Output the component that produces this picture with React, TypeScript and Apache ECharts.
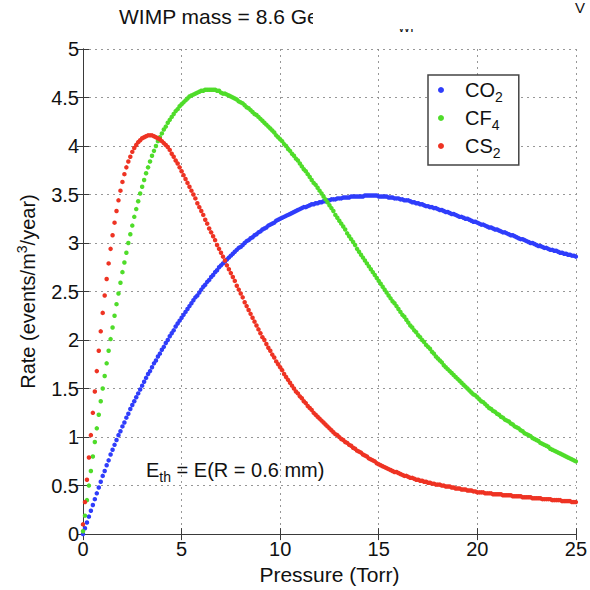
import React, { useEffect, useRef } from "react";
import * as echarts from "echarts";

// Sampling of the pressure axis (Torr) for every series below
const PRESSURE_STEP = 0.1;
const X_MIN = 0;
const X_MAX = 25;
const X_INTERVAL = 5;
const Y_MIN = 0;
const Y_MAX = 5;
const Y_INTERVAL = 0.5;

const SERIES_NAMES = ["CO2", "CF4", "CS2"];
const SERIES_LABELS = ["{n|CO}{s|2}", "{n|CF}{s|4}", "{n|CS}{s|2}"];
const SERIES_COLORS = ["#2f3dfb", "#4fdc2a", "#ee3323"];

// Rate (events/m^3/year), one value per 0.1 Torr from 0 to 25 Torr
const CO2_RATE = [
  0.00, 0.06, 0.12, 0.18, 0.24, 0.30, 0.36, 0.42, 0.48, 0.54,
  0.60, 0.65, 0.71, 0.76, 0.82, 0.87, 0.92, 0.97, 1.02, 1.06,
  1.11, 1.15, 1.20, 1.24, 1.29, 1.33, 1.37, 1.41, 1.45, 1.49,
  1.53, 1.57, 1.61, 1.65, 1.68, 1.72, 1.76, 1.79, 1.83, 1.86,
  1.90, 1.93, 1.97, 2.00, 2.04, 2.07, 2.10, 2.14, 2.17, 2.20,
  2.23, 2.26, 2.29, 2.32, 2.35, 2.38, 2.41, 2.44, 2.46, 2.49,
  2.52, 2.55, 2.57, 2.60, 2.62, 2.65, 2.67, 2.70, 2.72, 2.75,
  2.77, 2.79, 2.81, 2.83, 2.85, 2.87, 2.89, 2.91, 2.93, 2.95,
  2.96, 2.98, 3.00, 3.02, 3.03, 3.05, 3.06, 3.08, 3.09, 3.11,
  3.12, 3.14, 3.15, 3.16, 3.18, 3.19, 3.20, 3.21, 3.23, 3.24,
  3.25, 3.26, 3.27, 3.28, 3.29, 3.30, 3.31, 3.32, 3.33, 3.34,
  3.35, 3.36, 3.37, 3.37, 3.38, 3.39, 3.40, 3.40, 3.41, 3.41,
  3.42, 3.42, 3.43, 3.43, 3.44, 3.44, 3.45, 3.45, 3.45, 3.46,
  3.46, 3.46, 3.47, 3.47, 3.47, 3.47, 3.48, 3.48, 3.48, 3.48,
  3.48, 3.48, 3.48, 3.49, 3.49, 3.49, 3.49, 3.49, 3.49, 3.49,
  3.48, 3.48, 3.48, 3.48, 3.48, 3.47, 3.47, 3.47, 3.46, 3.46,
  3.46, 3.45, 3.45, 3.44, 3.44, 3.44, 3.43, 3.42, 3.42, 3.41,
  3.41, 3.40, 3.40, 3.39, 3.38, 3.38, 3.37, 3.37, 3.36, 3.36,
  3.35, 3.34, 3.34, 3.33, 3.32, 3.32, 3.31, 3.30, 3.30, 3.29,
  3.28, 3.27, 3.27, 3.26, 3.25, 3.25, 3.24, 3.23, 3.22, 3.22,
  3.21, 3.20, 3.19, 3.19, 3.18, 3.17, 3.16, 3.16, 3.15, 3.14,
  3.14, 3.13, 3.12, 3.11, 3.11, 3.10, 3.09, 3.08, 3.08, 3.07,
  3.06, 3.05, 3.04, 3.04, 3.03, 3.02, 3.01, 3.00, 3.00, 2.99,
  2.98, 2.97, 2.97, 2.96, 2.95, 2.95, 2.94, 2.93, 2.93, 2.92,
  2.92, 2.91, 2.90, 2.90, 2.89, 2.89, 2.88, 2.88, 2.87, 2.87,
  2.86,
];

const CF4_RATE = [
  0.03, 0.19, 0.35, 0.50, 0.65, 0.80, 0.95, 1.09, 1.23, 1.37,
  1.50, 1.63, 1.76, 1.89, 2.01, 2.13, 2.25, 2.37, 2.48, 2.59,
  2.70, 2.80, 2.90, 3.00, 3.09, 3.18, 3.27, 3.35, 3.43, 3.51,
  3.58, 3.65, 3.72, 3.78, 3.84, 3.90, 3.95, 4.00, 4.05, 4.09,
  4.13, 4.17, 4.20, 4.24, 4.27, 4.30, 4.33, 4.36, 4.38, 4.41,
  4.43, 4.45, 4.47, 4.49, 4.51, 4.52, 4.53, 4.54, 4.55, 4.56,
  4.57, 4.57, 4.58, 4.58, 4.58, 4.58, 4.58, 4.58, 4.57, 4.57,
  4.55, 4.54, 4.54, 4.53, 4.52, 4.51, 4.50, 4.49, 4.48, 4.46,
  4.45, 4.44, 4.42, 4.40, 4.39, 4.37, 4.35, 4.33, 4.32, 4.30,
  4.28, 4.26, 4.24, 4.22, 4.20, 4.18, 4.16, 4.14, 4.11, 4.09,
  4.07, 4.05, 4.02, 4.00, 3.97, 3.95, 3.92, 3.90, 3.87, 3.85,
  3.82, 3.79, 3.76, 3.74, 3.71, 3.68, 3.65, 3.62, 3.60, 3.57,
  3.54, 3.51, 3.48, 3.45, 3.42, 3.39, 3.36, 3.33, 3.29, 3.26,
  3.23, 3.20, 3.17, 3.14, 3.10, 3.07, 3.04, 3.01, 2.98, 2.94,
  2.91, 2.88, 2.85, 2.82, 2.79, 2.76, 2.73, 2.70, 2.67, 2.64,
  2.61, 2.58, 2.55, 2.52, 2.49, 2.46, 2.43, 2.40, 2.38, 2.35,
  2.32, 2.29, 2.26, 2.24, 2.21, 2.18, 2.15, 2.13, 2.10, 2.08,
  2.05, 2.03, 2.00, 1.98, 1.95, 1.93, 1.91, 1.88, 1.86, 1.83,
  1.81, 1.79, 1.77, 1.74, 1.72, 1.70, 1.68, 1.66, 1.64, 1.62,
  1.60, 1.58, 1.56, 1.54, 1.52, 1.50, 1.48, 1.46, 1.44, 1.43,
  1.41, 1.39, 1.37, 1.36, 1.34, 1.32, 1.30, 1.29, 1.27, 1.26,
  1.24, 1.23, 1.21, 1.20, 1.18, 1.17, 1.16, 1.14, 1.13, 1.11,
  1.10, 1.09, 1.07, 1.06, 1.04, 1.03, 1.02, 1.01, 0.99, 0.98,
  0.97, 0.96, 0.94, 0.93, 0.92, 0.91, 0.90, 0.88, 0.87, 0.86,
  0.85, 0.84, 0.83, 0.82, 0.81, 0.80, 0.79, 0.78, 0.77, 0.76,
  0.75,
];

const CS2_RATE = [
  0.10, 0.33, 0.56, 0.79, 1.02, 1.25, 1.47, 1.68, 1.89, 2.09,
  2.28, 2.46, 2.63, 2.79, 2.94, 3.08, 3.21, 3.33, 3.44, 3.54,
  3.63, 3.71, 3.78, 3.84, 3.89, 3.94, 3.98, 4.01, 4.04, 4.06,
  4.08, 4.09, 4.10, 4.11, 4.11, 4.11, 4.10, 4.09, 4.08, 4.07,
  4.05, 4.03, 4.01, 3.99, 3.96, 3.92, 3.89, 3.85, 3.82, 3.78,
  3.74, 3.70, 3.66, 3.62, 3.58, 3.54, 3.50, 3.46, 3.41, 3.37,
  3.33, 3.29, 3.24, 3.20, 3.15, 3.11, 3.07, 3.03, 2.98, 2.94,
  2.90, 2.86, 2.82, 2.77, 2.73, 2.69, 2.65, 2.61, 2.56, 2.52,
  2.48, 2.44, 2.39, 2.35, 2.31, 2.27, 2.23, 2.19, 2.15, 2.11,
  2.07, 2.03, 2.00, 1.96, 1.92, 1.89, 1.85, 1.82, 1.78, 1.75,
  1.72, 1.69, 1.65, 1.62, 1.59, 1.56, 1.53, 1.50, 1.47, 1.45,
  1.42, 1.40, 1.37, 1.35, 1.32, 1.30, 1.28, 1.25, 1.23, 1.21,
  1.19, 1.17, 1.15, 1.13, 1.11, 1.09, 1.07, 1.05, 1.03, 1.02,
  1.00, 0.98, 0.97, 0.95, 0.94, 0.92, 0.91, 0.89, 0.88, 0.86,
  0.85, 0.84, 0.82, 0.81, 0.80, 0.78, 0.77, 0.76, 0.75, 0.73,
  0.72, 0.71, 0.70, 0.69, 0.68, 0.67, 0.66, 0.65, 0.64, 0.64,
  0.63, 0.62, 0.61, 0.60, 0.60, 0.59, 0.58, 0.58, 0.57, 0.56,
  0.56, 0.55, 0.55, 0.54, 0.54, 0.53, 0.53, 0.52, 0.52, 0.51,
  0.51, 0.51, 0.50, 0.50, 0.49, 0.49, 0.49, 0.48, 0.48, 0.47,
  0.47, 0.47, 0.46, 0.46, 0.46, 0.45, 0.45, 0.45, 0.44, 0.44,
  0.43, 0.43, 0.43, 0.43, 0.42, 0.42, 0.42, 0.42, 0.41, 0.41,
  0.41, 0.41, 0.41, 0.40, 0.40, 0.40, 0.40, 0.40, 0.39, 0.39,
  0.39, 0.39, 0.39, 0.38, 0.38, 0.38, 0.38, 0.38, 0.37, 0.37,
  0.37, 0.37, 0.37, 0.36, 0.36, 0.36, 0.36, 0.36, 0.35, 0.35,
  0.35, 0.35, 0.35, 0.34, 0.34, 0.34, 0.34, 0.34, 0.33, 0.33,
  0.33,
];

const TITLE_TEXT = "WIMP mass = 8.6 Ge";
const X_NAME = "Pressure (Torr)";
const Y_NAME = "Rate (events/m{sup|3}/year)";
const NOTE_TEXT = "{n|E}{s|th}{n| = E(R = 0.6 mm)}";

const FONT = "Liberation Sans, Arial, Helvetica, sans-serif";
const AXIS_COLOR = "#3a3a3a";
const TEXT_COLOR = "#111111";

function toPoints(values: number[]) {
  return values.map((v, i) => [Number((i * PRESSURE_STEP).toFixed(1)), v]);
}

export default function App() {
  const ref = useRef<HTMLDivElement>(null);

  useEffect(() => {
    if (!ref.current) return;
    const chart = echarts.init(ref.current, undefined, { renderer: "svg" });

    const frameAxis = {
      axisLine: { show: true, lineStyle: { color: AXIS_COLOR, width: 1 } },
      axisTick: { show: true, inside: true, length: 6, lineStyle: { color: AXIS_COLOR } },
    };
    const gridLine = {
      show: true,
      lineStyle: { color: "#8c8c8c", type: [2, 4] as any, width: 1, opacity: 0.9 },
    };

    const rates = [CO2_RATE, CF4_RATE, CS2_RATE];
    const drawOrder = [0, 1, 2];

    chart.setOption({
      animation: false,
      backgroundColor: "#ffffff",
      textStyle: { fontFamily: FONT },
      grid: { left: 83, top: 49, width: 493, height: 488, containLabel: false },
      xAxis: [
        {
          type: "value",
          min: X_MIN,
          max: X_MAX,
          interval: X_INTERVAL,
          position: "bottom",
          ...frameAxis,
          splitLine: gridLine,
          axisLabel: { fontSize: 20, color: TEXT_COLOR, margin: 5, fontFamily: FONT },
          name: X_NAME,
          nameLocation: "middle",
          nameGap: 27,
          nameTextStyle: { fontSize: 21, color: TEXT_COLOR, fontFamily: FONT, verticalAlign: "top" },
        },
        {
          type: "value",
          min: X_MIN,
          max: X_MAX,
          interval: X_INTERVAL,
          position: "top",
          ...frameAxis,
          splitLine: { show: false },
          axisLabel: { show: false },
        },
      ],
      yAxis: [
        {
          type: "value",
          min: Y_MIN,
          max: Y_MAX,
          interval: Y_INTERVAL,
          position: "left",
          ...frameAxis,
          splitLine: gridLine,
          axisLabel: { fontSize: 20, color: TEXT_COLOR, margin: 4, fontFamily: FONT },
          name: Y_NAME,
          nameLocation: "middle",
          nameGap: 42,
          nameTextStyle: {
            fontSize: 20,
            color: TEXT_COLOR,
            fontFamily: FONT,
            rich: {
              sup: { fontSize: 14, color: TEXT_COLOR, fontFamily: FONT, padding: [0, 0, 12, 0] },
            },
          },
        },
        {
          type: "value",
          min: Y_MIN,
          max: Y_MAX,
          interval: Y_INTERVAL,
          position: "right",
          ...frameAxis,
          splitLine: { show: false },
          axisLabel: { show: false },
        },
      ],
      legend: {
        show: true,
        orient: "vertical",
        left: 428,
        top: 75,
        data: SERIES_NAMES,
        icon: "circle",
        itemWidth: 38,
        itemHeight: 6,
        itemGap: 4,
        symbolKeepAspect: true,
        padding: [5, 16, 5, 10],
        backgroundColor: "#ffffff",
        borderColor: "#444444",
        borderWidth: 1.5,
        borderRadius: 0,
        formatter: (name: string) => SERIES_LABELS[SERIES_NAMES.indexOf(name)],
        textStyle: {
          color: TEXT_COLOR,
          fontFamily: FONT,
          rich: {
            n: { fontSize: 20, color: TEXT_COLOR, fontFamily: FONT },
            s: { fontSize: 14, color: TEXT_COLOR, fontFamily: FONT, padding: [14, 0, 0, 0] },
          },
        },
      },
      graphic: [
        {
          type: "text",
          left: 119,
          top: 6,
          z: 5,
          style: { text: TITLE_TEXT, fontSize: 21, fill: TEXT_COLOR, fontFamily: FONT },
        },
        {
          type: "text",
          left: 398,
          top: 21,
          z: 5,
          style: { text: "WP", fontSize: 13, fill: TEXT_COLOR, fontFamily: FONT },
        },
        {
          type: "text",
          left: 575,
          top: 0,
          z: 5,
          style: { text: "V", fontSize: 15, fill: TEXT_COLOR, fontFamily: FONT },
        },
        {
          type: "rect",
          z: 6,
          shape: { x: 313, y: 0, width: 70, height: 40 },
          style: { fill: "#ffffff" },
        },
        {
          type: "rect",
          z: 6,
          shape: { x: 383, y: 0, width: 60, height: 29 },
          style: { fill: "#ffffff" },
        },
        {
          type: "text",
          left: 146,
          top: 460,
          z: 5,
          style: {
            text: NOTE_TEXT,
            fontFamily: FONT,
            fill: TEXT_COLOR,
            rich: {
              n: { fontSize: 20, fill: TEXT_COLOR, fontFamily: FONT },
              s: { fontSize: 14, fill: TEXT_COLOR, fontFamily: FONT, padding: [14, 0, 0, 0] },
            },
          },
        },
      ],
      series: drawOrder.map((i) => ({
        name: SERIES_NAMES[i],
        type: "scatter",
        xAxisIndex: 0,
        yAxisIndex: 0,
        symbol: "circle",
        symbolSize: 4.5,
        itemStyle: { color: SERIES_COLORS[i], opacity: 1 },
        emphasis: { disabled: true },
        data: toPoints(rates[i]),
      })),
    });

    return () => {
      chart.dispose();
    };
  }, []);

  return (
    <div
      ref={ref}
      style={{ position: "fixed", left: 0, top: 0, width: 590, height: 590, background: "#fff" }}
    />
  );
}
